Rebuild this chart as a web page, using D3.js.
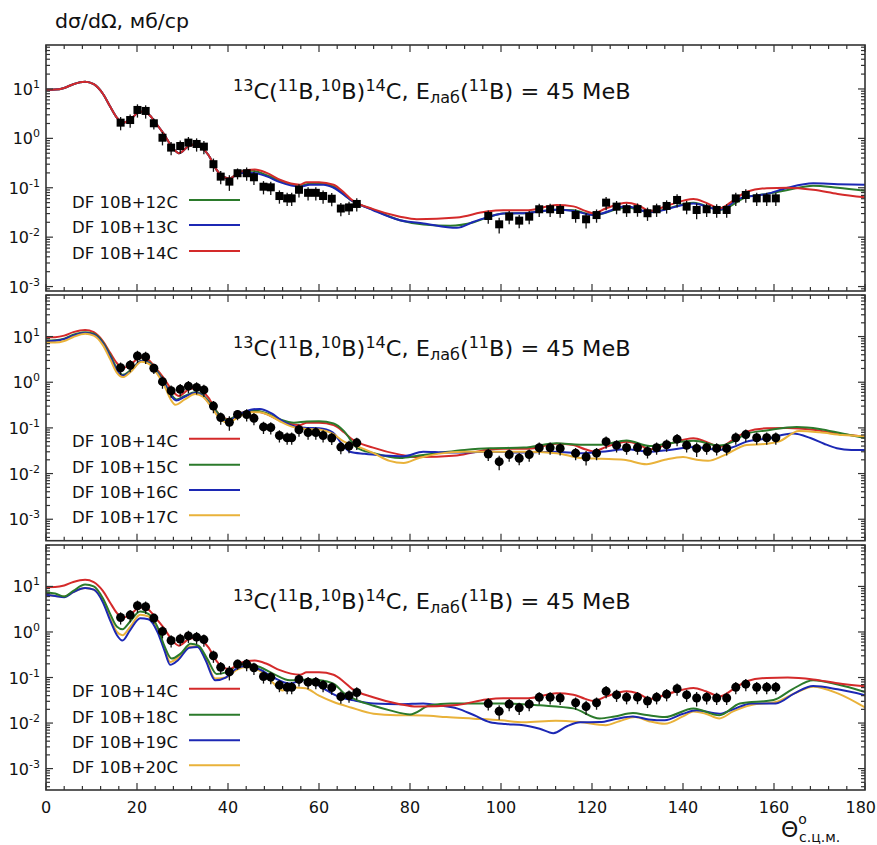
<!DOCTYPE html>
<html><head><meta charset="utf-8">
<script src="https://cdn.jsdelivr.net/npm/d3@7"></script>
<style>
html,body{margin:0;padding:0;background:#fff;}
svg{display:block;font-family:"DejaVu Sans",Verdana,sans-serif;}
</style></head>
<body>
<svg id="chart" width="877" height="845"></svg>
<script>
// ---------- DATA ----------
const xTicks = [0, 20, 40, 60, 80, 100, 120, 140, 160, 180];
const yDecades = [-3, -2, -1, 0, 1];

// experimental points (same data in all three panels)
const theta = [16.4,18.5,20.1,21.9,23.7,25.6,27.5,29.5,31.3,33.1,34.7,36.8,38.4,40.3,42.1,44.1,45.7,47.8,49.4,51.3,53.0,54.0,55.6,57.6,59.3,60.9,62.8,64.8,66.6,68.3,
  97.2,99.6,101.8,104.0,106.2,108.4,110.8,113.0,116.4,118.7,121.0,123.1,125.4,127.6,130.0,132.2,134.2,136.4,138.7,140.8,143.0,145.2,147.4,149.6,151.6,153.8,156.2,158.4,160.4];
const sigma = [2.08,2.35,3.76,3.59,2.02,1.03,0.65,0.70,0.82,0.77,0.68,0.30,0.168,0.133,0.197,0.197,0.163,0.105,0.102,0.068,0.061,0.061,0.091,0.079,0.079,0.068,0.060,0.038,0.040,0.047,
  0.0268,0.0182,0.026,0.0216,0.026,0.0367,0.0367,0.0355,0.028,0.023,0.028,0.050,0.0415,0.0367,0.037,0.0305,0.0367,0.0428,0.0566,0.0415,0.0355,0.0367,0.0355,0.0355,0.061,0.0714,0.061,0.061,0.061];
const relErr = [0.3,0.3,0.3,0.3,0.25,0.3,0.3,0.3,0.3,0.3,0.3,0.3,0.3,0.35,0.25,0.3,0.3,0.3,0.3,0.3,0.3,0.3,0.3,0.3,0.3,0.3,0.3,0.3,0.3,0.3,
  0.3,0.35,0.3,0.3,0.3,0.3,0.3,0.3,0.3,0.35,0.3,0.3,0.3,0.3,0.3,0.3,0.3,0.3,0.3,0.3,0.35,0.3,0.3,0.3,0.3,0.3,0.3,0.3,0.3];

// theoretical curves: [angle, value]
const red14 = [[0,9.6],[2,9.7],[4,10.5],[6,12.5],[8.6,14],[10.5,12.5],[12.5,8],[14.1,4.4],[15.6,2.6],[16.9,2.05],[18.5,2.4],[20.7,3.5],[22.5,3.1],[24.2,2.0],[25.8,1.26],[27.9,0.63],[29.2,0.5],[31.2,0.68],[33.1,0.76],[34.5,0.62],[35.7,0.46],[37.5,0.23],[39.0,0.165],[40.4,0.155],[42.6,0.21],[45.9,0.235],[48.5,0.2],[51.4,0.145],[55.8,0.115],[57.3,0.13],[60,0.13],[63.2,0.115],[65.5,0.08],[67.2,0.057],[71.9,0.037],[77.8,0.026],[81.5,0.023],[90.3,0.025],[96.8,0.033],[100.5,0.035],[106,0.035],[112.2,0.045],[115.9,0.042],[118.5,0.034],[120.3,0.0305],[123,0.038],[127.6,0.05],[130,0.045],[132.7,0.034],[137,0.045],[142.3,0.059],[145,0.05],[148.1,0.0385],[151,0.055],[154,0.083],[158.4,0.098],[163,0.1],[168.6,0.091],[174,0.075],[180,0.064]];
const green12 = [[0,9.6],[2,9.7],[4,10.5],[6,12.5],[8.6,14],[10.5,12.5],[12.5,8],[14.1,4.4],[15.6,2.6],[16.9,2.05],[18.5,2.4],[20.7,3.5],[22.5,3.1],[24.2,2.0],[25.8,1.26],[27.9,0.63],[29.2,0.5],[31.2,0.68],[33.1,0.76],[34.5,0.62],[35.7,0.46],[37.5,0.23],[39.0,0.165],[40.4,0.155],[42.6,0.21],[45.5,0.22],[48.5,0.18],[51.4,0.14],[55.8,0.11],[58,0.12],[61,0.12],[63.2,0.105],[67.2,0.055],[71.9,0.036],[77.8,0.022],[83,0.018],[88.8,0.017],[94,0.02],[97.5,0.026],[100.5,0.03],[106,0.031],[112,0.036],[116,0.035],[120.3,0.028],[127.6,0.04],[132.7,0.032],[142.3,0.05],[148.1,0.036],[154,0.065],[158.4,0.075],[163,0.09],[168.6,0.11],[174,0.1],[180,0.087]];
const blue13 = [[0,9.6],[2,9.7],[4,10.5],[6,12.5],[8.6,14],[10.5,12.5],[12.5,8],[14.1,4.4],[15.6,2.6],[16.9,2.05],[18.5,2.4],[20.7,3.5],[22.5,3.1],[24.2,2.0],[25.8,1.26],[27.9,0.63],[29.2,0.5],[31.2,0.68],[33.1,0.76],[34.5,0.62],[35.7,0.46],[37.5,0.23],[39.0,0.165],[40.4,0.155],[42.6,0.2],[45.5,0.2],[48.5,0.17],[51.4,0.13],[55.8,0.105],[58,0.115],[61,0.115],[63.2,0.1],[67.2,0.055],[71.9,0.035],[77.8,0.022],[83,0.019],[90.3,0.0155],[94,0.0205],[97.5,0.026],[100.5,0.03],[106,0.031],[112,0.036],[116,0.034],[120.3,0.028],[127.6,0.042],[132.7,0.032],[142.3,0.048],[148.1,0.036],[152.5,0.061],[158.4,0.075],[163,0.1],[168.6,0.123],[174,0.118],[180,0.115]];
const green15 = [[0,8.2],[2,8.3],[4,9],[6,11],[8.6,12.5],[10.5,11.5],[12.5,7.5],[14.1,4],[15.6,2.0],[16.9,1.45],[18.5,1.8],[21,2.95],[22.7,2.7],[24.5,1.7],[26,1.0],[27.5,0.55],[28.7,0.42],[30.5,0.5],[32.8,0.6],[34.5,0.52],[36,0.36],[38,0.2],[39.8,0.15],[42.6,0.2],[45.5,0.24],[48.5,0.21],[51.4,0.155],[54.5,0.13],[57.3,0.138],[60,0.14],[63.2,0.125],[65.5,0.085],[68.3,0.037],[72,0.028],[77.8,0.022],[82,0.025],[86,0.028],[92,0.033],[97.6,0.036],[105,0.037],[112.2,0.046],[117.4,0.043],[122,0.043],[127.6,0.053],[132.7,0.04],[137,0.046],[142.3,0.052],[148,0.041],[151,0.05],[154,0.075],[158.4,0.088],[165,0.105],[170,0.095],[175,0.075],[180,0.06]];
const blue16 = [[0,8],[2,8.1],[4,8.8],[6,10.5],[8.6,12],[10.5,11],[12.5,7],[14.1,3.6],[15.6,1.8],[16.9,1.38],[18.5,1.7],[21,2.9],[22.7,2.6],[24.5,1.6],[26,0.95],[27.5,0.5],[28.6,0.4],[30.5,0.48],[32.8,0.58],[34.5,0.5],[36,0.33],[38,0.18],[39.8,0.14],[42.6,0.2],[45,0.25],[47,0.26],[49.5,0.21],[52,0.14],[55,0.105],[57.3,0.1],[60,0.098],[63,0.08],[65,0.045],[66.8,0.03],[70,0.027],[74,0.025],[78.6,0.024],[82.9,0.03],[88,0.029],[92,0.029],[97.6,0.030],[105,0.029],[112.2,0.030],[117.4,0.028],[122,0.03],[127.6,0.034],[132.7,0.03],[137,0.033],[142.3,0.038],[148,0.033],[151,0.038],[154,0.05],[158.4,0.058],[164.2,0.075],[168,0.06],[171,0.045],[173.8,0.036],[177,0.033],[180,0.033]];
const gold17 = [[0,7.4],[2,7.4],[4,8],[6,9.8],[8.6,11.5],[10.5,10.5],[12.5,6.5],[14.1,3.2],[15.6,1.6],[16.9,1.3],[18.5,1.65],[21,2.8],[22.7,2.5],[24.5,1.5],[26,0.85],[27.4,0.42],[28.4,0.32],[30.5,0.42],[32.8,0.55],[34.5,0.48],[36,0.32],[38,0.17],[39.8,0.13],[42.6,0.18],[45,0.22],[47,0.22],[49.5,0.18],[52,0.13],[55,0.1],[57.3,0.095],[60,0.092],[63,0.075],[65.5,0.05],[68.3,0.04],[72,0.028],[75.5,0.019],[78.6,0.017],[82,0.022],[86,0.027],[92,0.03],[97.6,0.03],[105,0.03],[112.2,0.028],[117.4,0.022],[122,0.021],[127,0.02],[132,0.016],[136,0.02],[140,0.023],[143,0.02],[145.5,0.019],[149,0.025],[154,0.042],[158.4,0.045],[161,0.05],[165.5,0.085],[170,0.08],[175,0.07],[180,0.066]];
const green18 = [[0,7.5],[2,7],[4,6.0],[6,8],[8.6,11],[10.5,10],[12.5,5.5],[14.1,2.5],[15.6,1.3],[16.8,1.15],[18.5,1.7],[20.7,2.8],[22.5,2.5],[24.5,1.3],[26,0.5],[27.6,0.26],[29.5,0.33],[31.8,0.55],[33.5,0.5],[35.5,0.25],[37.5,0.12],[39.5,0.13],[42,0.18],[44,0.2],[47,0.17],[50,0.12],[53.6,0.087],[58,0.09],[61,0.085],[63.5,0.07],[65.5,0.045],[68.3,0.032],[72,0.024],[75.6,0.019],[80,0.0155],[84.4,0.0245],[89,0.027],[94,0.027],[101,0.027],[108.6,0.0245],[115.9,0.021],[121.7,0.0126],[125,0.014],[129,0.0166],[132,0.015],[136,0.0135],[142.3,0.021],[148,0.0148],[152.5,0.027],[159.9,0.032],[164,0.055],[168.6,0.087],[174,0.07],[180,0.048]];
const blue19 = [[0,6.6],[2,6.2],[4,5.8],[6,7.5],[8.6,9.2],[10.5,8.5],[12.5,4.5],[14.1,1.8],[15.6,0.85],[16.8,0.65],[18.5,1.1],[20.7,2.0],[22.5,1.9],[24.5,1.0],[26,0.4],[27.3,0.19],[29,0.24],[31.5,0.45],[33.3,0.47],[35,0.25],[37.2,0.087],[39.5,0.1],[42,0.16],[44,0.18],[47,0.15],[50,0.1],[53.6,0.074],[56.5,0.087],[59,0.075],[62,0.05],[64.6,0.037],[68,0.031],[72,0.027],[78,0.026],[82.9,0.027],[87,0.024],[90.3,0.021],[94,0.015],[97.6,0.0104],[101,0.0095],[104.9,0.009],[108.5,0.0075],[111.5,0.006],[114.5,0.0085],[117.4,0.0104],[121.7,0.0105],[125.5,0.0125],[129,0.014],[132.5,0.012],[136,0.0115],[140,0.016],[143,0.019],[148,0.016],[151,0.02],[155,0.027],[160.4,0.027],[164.5,0.045],[168.6,0.065],[174,0.055],[180,0.041]];
const gold20 = [[0,6.6],[2,6.2],[4,6.0],[6,7.5],[8.6,9.2],[10.5,8.5],[12.5,4.8],[14.1,2.0],[15.6,1.0],[16.8,0.85],[18.5,1.3],[20.7,2.4],[22.5,2.2],[24.5,1.1],[26,0.45],[27.3,0.22],[29,0.27],[31.5,0.48],[33.3,0.48],[35,0.27],[37.2,0.095],[39.5,0.1],[42,0.15],[44,0.17],[47,0.14],[50,0.075],[52,0.052],[54.5,0.06],[57,0.058],[60,0.04],[63.2,0.029],[67,0.022],[72,0.016],[77,0.0148],[83,0.0147],[88,0.0135],[94,0.0125],[100,0.0115],[105,0.0104],[112,0.0113],[117.4,0.0105],[123,0.009],[126,0.011],[129.5,0.0135],[132.5,0.011],[136,0.0096],[140,0.014],[142.3,0.018],[145,0.016],[148,0.0126],[151,0.018],[155,0.025],[160.4,0.029],[164.5,0.045],[168.6,0.063],[174,0.045],[180,0.022]];

const legend1 = ["DF 10B+12C", "DF 10B+13C", "DF 10B+14C"];
const legend2 = ["DF 10B+14C", "DF 10B+15C", "DF 10B+16C", "DF 10B+17C"];
const legend3 = ["DF 10B+14C", "DF 10B+18C", "DF 10B+19C", "DF 10B+20C"];

// ---------- STYLE / LAYOUT ----------
const COL = {red:"#d42a2a", green:"#2b7a2b", blue:"#1c28b4", gold:"#e9b23a"};
const svg = d3.select("#chart");
const X0 = 46, X1 = 865;
const x = d3.scaleLinear().domain([0,180]).range([X0, X1]);

const panels = [
  {top:45, bottom:291, lo:-3.09, hi:1.89, marker:"square",
   series:[{d:green12,c:COL.green},{d:blue13,c:COL.blue},{d:red14,c:COL.red}],
   legend:legend1, legCols:[COL.green,COL.blue,COL.red], legY:[163,188,214]},
  {top:295, bottom:540.7, lo:-3.47, hi:1.91, marker:"circle",
   series:[{d:red14,c:COL.red},{d:green15,c:COL.green},{d:blue16,c:COL.blue},{d:gold17,c:COL.gold}],
   legend:legend2, legCols:[COL.red,COL.green,COL.blue,COL.gold], legY:[151.7,177.7,203,228.3]},
  {top:545, bottom:790, lo:-3.47, hi:1.91, marker:"circle",
   series:[{d:gold20,c:COL.gold},{d:blue19,c:COL.blue},{d:green18,c:COL.green},{d:red14,c:COL.red}],
   legend:legend3, legCols:[COL.red,COL.green,COL.blue,COL.gold], legY:[151.7,177.7,203.3,228.3]}
];

function addTitle(g, yb) {
  const t = g.append("text").attr("transform", `translate(233,${yb}) scale(1.07,1)`)
    .attr("font-size", 21).attr("fill", "#111");
  const parts = [["13","sup"],["C(",""],["11","sup"],["B,",""],["10","sup"],["B)",""],["14","sup"],["C, E",""],["лаб","sub"],["(",""],["11","sup"],["B) = 45 МеВ",""]];
  let cur = 0;
  parts.forEach(([s, k]) => {
    const target = k === "sup" ? -8.5 : (k === "sub" ? 4 : 0);
    const ts = t.append("tspan").attr("dy", target - cur).text(s);
    if (k) ts.attr("font-size", 15);
    cur = target;
  });
}

panels.forEach((p, i) => {
  const y = d3.scaleLog().domain([Math.pow(10,p.lo), Math.pow(10,p.hi)]).range([p.bottom, p.top]);
  const g = svg.append("g");
  const clipId = "clip" + i;
  svg.append("clipPath").attr("id", clipId).append("rect")
    .attr("x", X0).attr("y", p.top).attr("width", X1 - X0).attr("height", p.bottom - p.top);

  // curves
  const line = d3.line().x(d => x(d[0])).y(d => y(d[1])).curve(d3.curveMonotoneX);
  const cg = g.append("g").attr("clip-path", `url(#${clipId})`);
  p.series.forEach(s => {
    cg.append("path").datum(s.d).attr("d", line).attr("fill", "none")
      .attr("stroke", s.c).attr("stroke-width", 2);
  });

  // data points with error bars
  const pts = theta.map((t, j) => ({t, s: sigma[j], e: relErr[j]}));
  const dg = g.append("g").attr("clip-path", `url(#${clipId})`);
  dg.selectAll("line.err").data(pts).join("line")
    .attr("x1", d => x(d.t)).attr("x2", d => x(d.t))
    .attr("y1", d => y(d.s * (1 + d.e))).attr("y2", d => y(d.s * (1 - d.e)))
    .attr("stroke", "#111").attr("stroke-width", 1.3);
  if (p.marker === "square") {
    dg.selectAll("rect.pt").data(pts).join("rect")
      .attr("x", d => x(d.t) - 4).attr("y", d => y(d.s) - 4)
      .attr("width", 8).attr("height", 8).attr("fill", "#000");
  } else {
    dg.selectAll("circle.pt").data(pts).join("circle")
      .attr("cx", d => x(d.t)).attr("cy", d => y(d.s)).attr("r", 4.5).attr("fill", "#000");
  }

  // ticks
  const tk = g.append("g").attr("stroke", "#333").attr("stroke-width", 1.2);
  d3.range(0, 181, 4).forEach(v => {
    const len = v % 20 === 0 ? 7 : 4;
    tk.append("line").attr("x1", x(v)).attr("x2", x(v)).attr("y1", p.bottom).attr("y2", p.bottom - len);
    tk.append("line").attr("x1", x(v)).attr("x2", x(v)).attr("y1", p.top).attr("y2", p.top + len);
  });
  for (let k = -4; k <= 2; k++) {
    for (let m = 1; m <= 9; m++) {
      const v = m * Math.pow(10, k);
      const lv = Math.log10(v);
      if (lv < p.lo || lv > p.hi) continue;
      const len = m === 1 ? 7 : 4;
      tk.append("line").attr("x1", X0).attr("x2", X0 + len).attr("y1", y(v)).attr("y2", y(v));
      tk.append("line").attr("x1", X1).attr("x2", X1 - len).attr("y1", y(v)).attr("y2", y(v));
    }
  }
  // frame
  g.append("rect").attr("x", X0).attr("y", p.top).attr("width", X1 - X0).attr("height", p.bottom - p.top)
    .attr("fill", "none").attr("stroke", "#333").attr("stroke-width", 1.6);

  // y tick labels
  yDecades.forEach(k => {
    const t = g.append("text").attr("x", 40).attr("y", y(Math.pow(10, k)) + 6)
      .attr("text-anchor", "end").attr("font-size", 16).attr("fill", "#111");
    t.append("tspan").text("10");
    t.append("tspan").attr("dy", -7).attr("font-size", 11).text(String(k));
  });

  // title
  addTitle(g, [99, 356, 609][i]);

  // legend
  p.legend.forEach((lab, j) => {
    const yb = p.top + p.legY[j];
    g.append("text").attr("x", 72).attr("y", yb).attr("font-size", 16.5).attr("fill", "#111").text(lab);
    g.append("line").attr("x1", 189).attr("x2", 240).attr("y1", yb - 8).attr("y2", yb - 8)
      .attr("stroke", p.legCols[j]).attr("stroke-width", 2);
  });
});

// x tick labels
xTicks.forEach((v, i) => {
  const last = i === xTicks.length - 1;
  svg.append("text").attr("x", last ? 876 : x(v)).attr("y", 813)
    .attr("text-anchor", last ? "end" : "middle")
    .attr("font-size", 16).attr("fill", "#111").text(v);
});

// axis titles
svg.append("text").attr("transform", "translate(55,28) scale(1.08,1)").attr("font-size", 19)
  .attr("fill", "#111").text("dσ/dΩ, мб/ср");
const xt = svg.append("text").attr("x", 781).attr("y", 837).attr("font-size", 22).attr("fill", "#111");
xt.append("tspan").text("Θ");
xt.append("tspan").attr("dy", -13).attr("font-size", 14).text("o");
svg.append("text").attr("x", 799).attr("y", 842).attr("font-size", 14).attr("fill", "#111").text("с.ц.м.");
</script>
</body></html>
